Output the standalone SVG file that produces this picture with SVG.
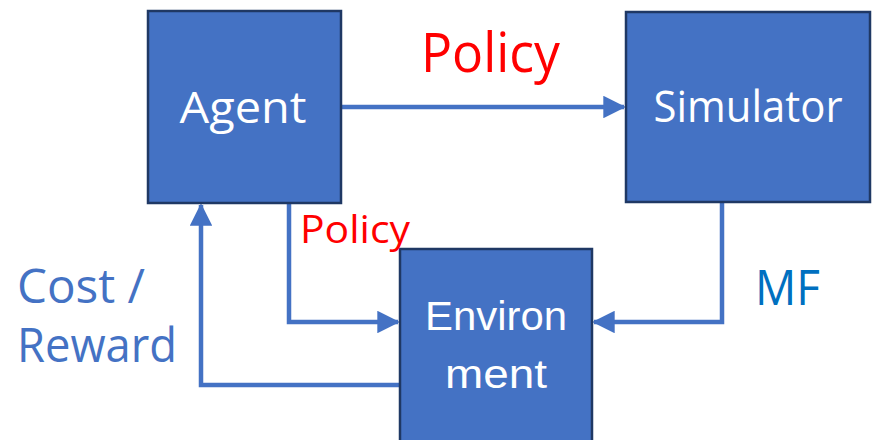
<svg xmlns="http://www.w3.org/2000/svg" width="872" height="440" viewBox="0 0 872 440">
<defs>
<style>
.box{fill:#4472c4;stroke:#1f3864;stroke-width:2.5}
.lbl{font-family:"Comic Sans MS","Open Sans",sans-serif;fill:#ffffff}
.env{font-family:"Liberation Sans",Arial,sans-serif;fill:#ffffff}
.red{font-family:"Comic Sans MS","Open Sans",sans-serif;fill:#ff0000}
.blue{font-family:"Comic Sans MS","Open Sans",sans-serif;fill:#4472c4}
.mf{font-family:"Comic Sans MS","Open Sans",sans-serif;fill:#0070c0}
.conn{fill:none;stroke:#4472c4;stroke-width:4.5}
</style>
<marker id="ah" markerWidth="5" markerHeight="5" refX="4.6" refY="2.5" orient="auto" markerUnits="strokeWidth">
<path d="M0,0 L5,2.5 L0,5 Z" fill="#4472c4"/>
</marker>
</defs>
<rect width="872" height="440" fill="#ffffff"/>
<g id="connectors">
<path class="conn" d="M341,107 L624,107" marker-end="url(#ah)"/>
<path class="conn" d="M722,203 L722,322 L594,322" marker-end="url(#ah)"/>
<path class="conn" d="M289,203 L289,322 L398,322" marker-end="url(#ah)"/>
<path class="conn" d="M400,385 L201,385 L201,205" marker-end="url(#ah)"/>
</g>
<g id="agent">
<rect class="box" x="148" y="11" width="193" height="192"/>
<text class="lbl" x="243" y="123" font-size="44" text-anchor="middle" textLength="127" lengthAdjust="spacingAndGlyphs">Agent</text>
</g>
<g id="simulator">
<rect class="box" x="626" y="12" width="244" height="190"/>
<text class="lbl" x="748" y="122" font-size="44" text-anchor="middle" textLength="189" lengthAdjust="spacingAndGlyphs">Simulator</text>
</g>
<g id="environment">
<rect class="box" x="400" y="249" width="192" height="200"/>
<text class="env" x="496" y="330" font-size="40" text-anchor="middle" textLength="142" lengthAdjust="spacingAndGlyphs">Environ</text>
<text class="env" x="496" y="388" font-size="40" text-anchor="middle" textLength="102" lengthAdjust="spacingAndGlyphs">ment</text>
</g>
<g id="labels">
<text class="red" x="421" y="72" font-size="54" textLength="139" lengthAdjust="spacingAndGlyphs">Policy</text>
<text class="red" x="300" y="243" font-size="39" textLength="110" lengthAdjust="spacingAndGlyphs">Policy</text>
<text class="blue" x="17" y="303" font-size="48" textLength="128" lengthAdjust="spacingAndGlyphs">Cost /</text>
<text class="blue" x="17" y="362" font-size="48" textLength="160" lengthAdjust="spacingAndGlyphs">Reward</text>
<text class="mf" x="755" y="305" font-size="50" textLength="65" lengthAdjust="spacingAndGlyphs">MF</text>
</g>
</svg>
